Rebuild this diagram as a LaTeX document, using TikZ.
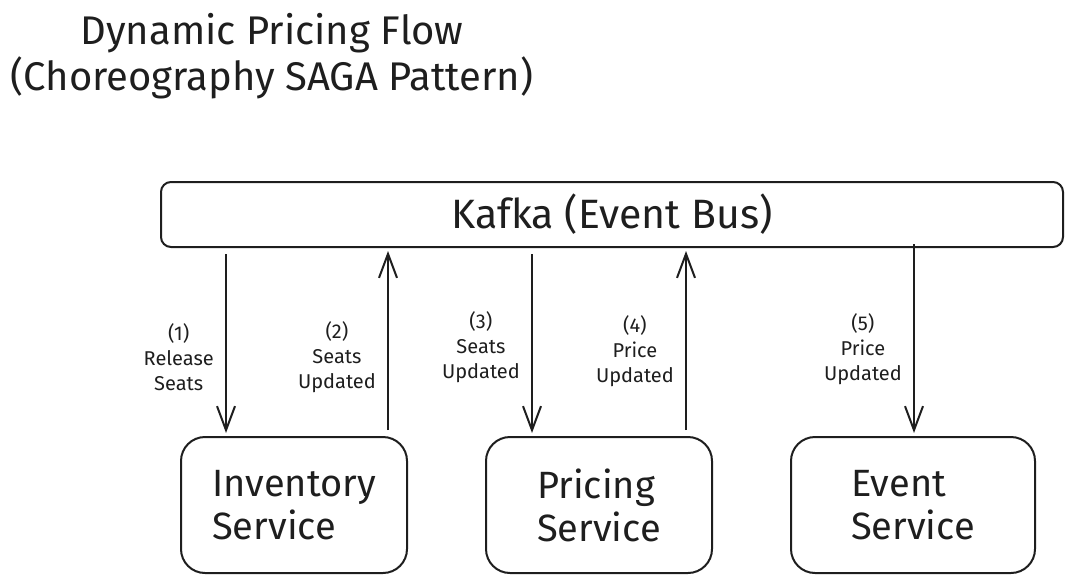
\documentclass[tikz,border=0pt]{standalone}
\usepackage{fontspec}
\setmainfont{Fira Sans}
\usepackage{tikz}
\usetikzlibrary{arrows.meta,positioning}
\usepackage{xcolor}
\definecolor{ink}{HTML}{1E1E1E}

\begin{document}
\begin{tikzpicture}[x=1pt,y=-1pt,ink,line width=2pt,
    svc/.style={draw,rounded corners=24pt,minimum width=226pt,minimum height=136pt,align=left,font=\fontsize{38}{43}\selectfont},
    bus/.style={draw,rounded corners=10pt,minimum width=902pt,minimum height=65pt,font=\fontsize{41}{44}\selectfont},
    msg/.style={-{Straight Barb[length=24pt,width=18pt,line width=2pt]},line width=2.4pt,shorten <=6pt,shorten >=3pt},
    lbl/.style={align=center,font=\fontsize{20}{25}\selectfont,inner sep=11pt}]
  \useasboundingbox (0,0) rectangle (1073,586);

  \node[align=center,font=\fontsize{40}{46}\selectfont] (title) at (272,56) {Dynamic Pricing Flow\\(Choreography SAGA Pattern)};

  \node[bus]                          (kafka) at (612,214.5) {Kafka (Event Bus)};
  \node[svc]                          (inv)   at (294,505)   {Inventory\\Service};
  \node[svc]                          (price) at (599,505)   {Pricing\\Service};
  \node[svc,minimum width=244pt]      (event) at (913,505)   {Event\\Service};

  \coordinate (a1) at ([xshift=-68pt]inv.north);
  \coordinate (a2) at ([xshift=94pt]inv.north);
  \coordinate (a3) at ([xshift=-67pt]price.north);
  \coordinate (a4) at ([xshift=87pt]price.north);
  \coordinate (a5) at ([xshift=1pt]event.north);

  \path[msg] (a1 |- kafka.south) edge node[lbl,anchor=east,pos=0.58] {(1)\\Release\\Seats} (a1)
             (a2) edge node[lbl,anchor=east,pos=0.42] {(2)\\Seats\\Updated} (a2 |- kafka.south)
             (a3 |- kafka.south) edge node[lbl,anchor=east,pos=0.53] {(3)\\Seats\\Updated} (a3)
             (a4) edge node[lbl,anchor=east,pos=0.45] {(4)\\Price\\Updated} (a4 |- kafka.south)
             ([yshift=10pt]a5 |- kafka.south) edge node[lbl,anchor=east,pos=0.56] {(5)\\Price\\Updated} (a5);
\end{tikzpicture}
\end{document}
